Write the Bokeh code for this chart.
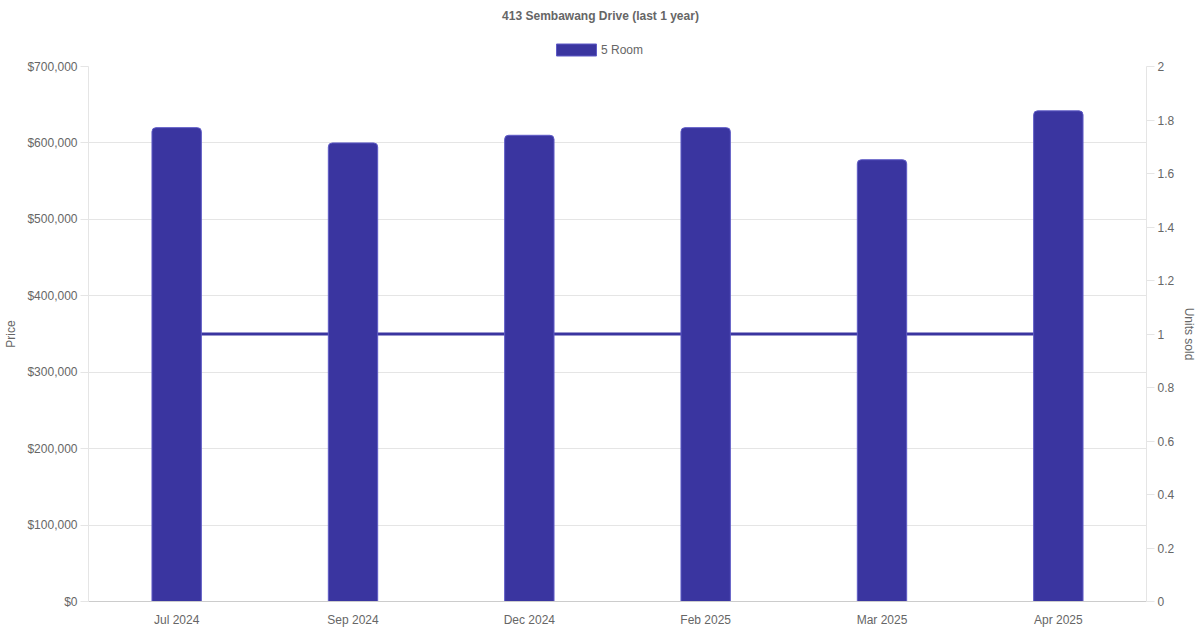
from bokeh.plotting import figure
from bokeh.layouts import column
from bokeh.models import (Range1d, LinearAxis, FactorRange, NumeralTickFormatter, FixedTicker,
                          Legend, LegendItem, ColumnDataSource, Label)
from bokeh.embed import file_html
from bokeh.resources import INLINE

months = ["Jul 2024", "Sep 2024", "Dec 2024", "Feb 2025", "Mar 2025", "Apr 2025"]
prices = [620000, 600000, 610000, 620000, 578000, 642000]
units_sold = [1, 1, 1, 1, 1, 1]
price_ticks = [0, 100000, 200000, 300000, 400000, 500000, 600000, 700000]
unit_ticks = [0, 0.2, 0.4, 0.6, 0.8, 1, 1.2, 1.4, 1.6, 1.8, 2]
title_text = "413 Sembawang Drive (last 1 year)"
series_name = "5 Room"

FONT = "Liberation Sans"
TXT = "#666666"
GRID = "#e5e5e5"
BAR = "#3a35a0"
BAR_EDGE = "#5f5bc6"

# ---------- header: title + legend (frame aligned with main chart frame) ----------
h = figure(frame_width=1058, frame_height=58, x_range=Range1d(88, 1146), y_range=Range1d(0, 58),
           x_axis_type=None, y_axis_type=None, output_backend="svg", toolbar_location=None,
           min_border_left=88, min_border_right=54, min_border_top=0, min_border_bottom=0)
h.outline_line_color = None
h.grid.grid_line_color = None
h.add_layout(Label(x=600, y=43, text=title_text, text_align="center", text_baseline="middle",
                   text_font=FONT, text_font_size="12px", text_font_style="bold",
                   text_color=TXT))
# legend proxy renderer placed outside the visible header range
proxy = h.vbar(x=[-1000], top=[0], width=1, fill_color=BAR, line_color=BAR_EDGE, line_width=1)
legend = Legend(items=[LegendItem(label=series_name, renderers=[proxy])],
                orientation="horizontal", location=(463, 1),
                glyph_width=50, glyph_height=15, label_standoff=0,
                label_text_font=FONT, label_text_font_size="12px", label_text_color=TXT,
                border_line_color=None, background_fill_alpha=0, padding=0, margin=0,
                label_height=12, spacing=0)
h.add_layout(legend, "center")

# ---------- main chart ----------
src = ColumnDataSource(dict(month=months, price=prices, units=units_sold))

p = figure(frame_width=1058, frame_height=535, x_range=FactorRange(*months, range_padding=0),
           y_range=Range1d(0, 700000), output_backend="svg", toolbar_location=None,
           min_border_left=88, min_border_right=54, min_border_top=8, min_border_bottom=29)
p.extra_y_ranges = {"units": Range1d(0, 2)}

p.line("month", "units", source=src, y_range_name="units", line_color=BAR, line_width=3)
p.vbar(x="month", top="price", source=src, width=0.28, fill_color=BAR,
       line_color=BAR_EDGE, line_width=1, border_radius=(4, 4, 0, 0))

p.outline_line_color = None
p.xgrid.grid_line_color = None
p.ygrid.grid_line_color = GRID
p.ygrid.ticker = FixedTicker(ticks=price_ticks)

la = p.yaxis[0]
la.ticker = FixedTicker(ticks=price_ticks)
la.formatter = NumeralTickFormatter(format="$0,0")
la.axis_label = "Price"
la.axis_line_color = GRID
la.major_tick_line_color = GRID
la.major_tick_out = 8
la.major_tick_in = 0
la.minor_tick_line_color = None
la.major_label_standoff = 3
la.axis_label_standoff = 6

ra = LinearAxis(y_range_name="units", ticker=FixedTicker(ticks=unit_ticks),
                axis_label="Units sold")
ra.major_label_overrides = {t: ("%g" % t) for t in unit_ticks}
ra.axis_line_color = GRID
ra.major_tick_line_color = GRID
ra.major_tick_out = 8
ra.major_tick_in = 0
ra.minor_tick_line_color = None
ra.major_label_standoff = 3
ra.axis_label_standoff = 5
p.add_layout(ra, "right")

xa = p.xaxis[0]
xa.axis_line_color = "#cccccc"
xa.major_tick_line_color = None
xa.minor_tick_line_color = None
xa.major_label_standoff = 5

for ax in (la, ra, xa):
    ax.major_label_text_font = FONT
    ax.major_label_text_font_size = "12px"
    ax.major_label_text_color = TXT
    ax.axis_label_text_font = FONT
    ax.axis_label_text_font_size = "12px"
    ax.axis_label_text_color = TXT
    ax.axis_label_text_font_style = "normal"

layout = column(h, p, spacing=0)
open("out.html", "w").write(file_html(layout, INLINE))
